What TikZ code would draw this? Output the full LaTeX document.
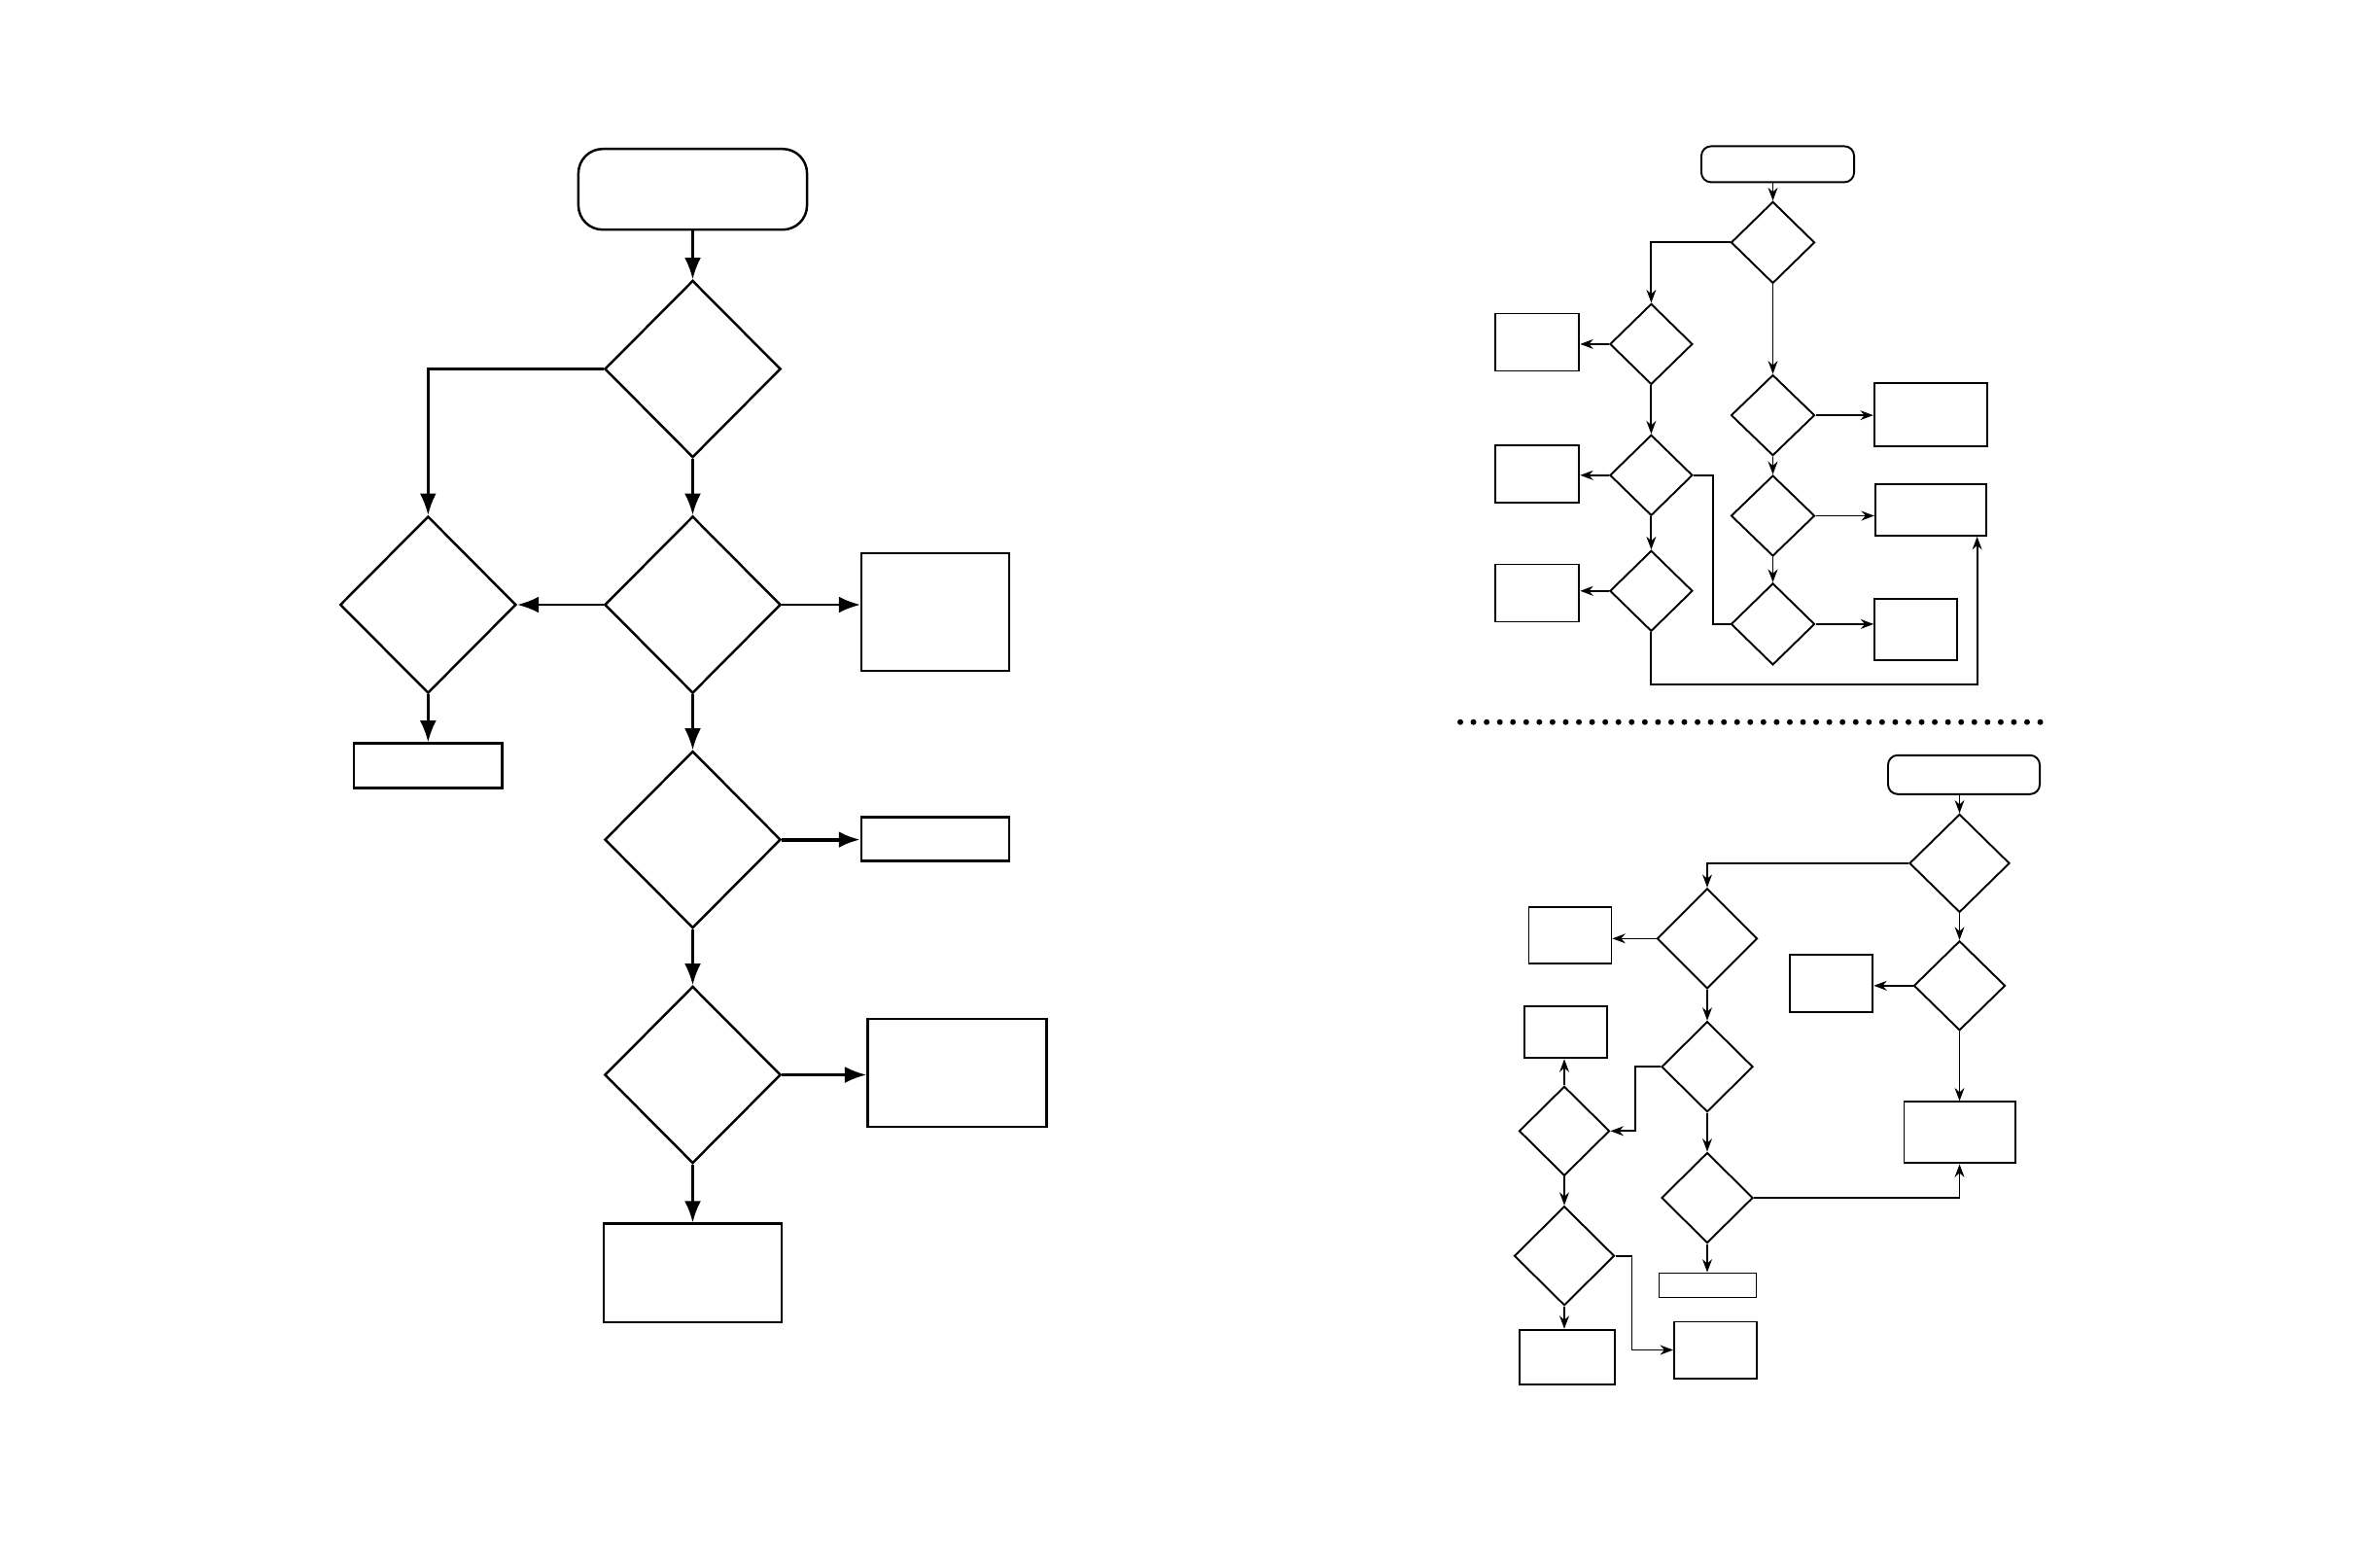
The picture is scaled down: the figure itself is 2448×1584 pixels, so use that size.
\documentclass[tikz,border=0pt]{standalone}
\usepackage{amsmath, amssymb}
\usepackage{tikz}
\usetikzlibrary{shapes.geometric, arrows.meta, calc}

\begin{document}
\begin{tikzpicture}[x=0.01cm, y=-0.01cm,
    dec/.style={diamond, draw, inner sep=0pt, line width=0.7pt, minimum width=1.81cm, minimum height=1.82cm},
    blk/.style={rectangle, draw, inner sep=0pt, line width=0.7pt},
    sdec/.style={diamond, draw, inner sep=0pt, line width=0.55pt},
    sblk/.style={rectangle, draw, inner sep=0pt, line width=0.55pt},
    arr/.style={-{Latex[length=6.3pt, width=4.8pt]}, line width=0.7pt},
    sarr/.style={-{Stealth[length=3.8pt, width=2.8pt]}, line width=0.55pt},
    tarr/.style={-{Stealth[length=3.8pt, width=2.8pt]}, line width=0.4pt}]
    \useasboundingbox (0,0) rectangle (2448,1584);

    % left chart
    \node[blk, rounded corners=0.25cm, minimum width=2.35cm, minimum height=0.83cm] (start) at (712.5,194.7) {};
    \node[dec] (d1) at (712.5,379.5) {};
    \node[dec] (dl) at (440.3,622) {};
    \node[dec] (d2) at (712.5,622) {};
    \node[blk, minimum width=1.52cm, minimum height=1.21cm] (b1) at (962.2,629.3) {};
    \node[blk, minimum width=1.52cm, minimum height=0.46cm] (bl) at (440.3,787.6) {};
    \node[dec] (d3) at (712.5,863.6) {};
    \node[blk, minimum width=1.52cm, minimum height=0.45cm] (b2) at (962.2,863.2) {};
    \node[dec] (d4) at (712.5,1105.5) {};
    \node[blk, minimum width=1.84cm, minimum height=1.11cm] (b3) at (984.4,1103.4) {};
    \node[blk, minimum width=1.83cm, minimum height=1.01cm] (b4) at (712.5,1309.2) {};

    \draw[arr] (start) -- (d1);
    \draw[arr] (d1.west) -| (dl.north);
    \draw[arr] (d1) -- (d2);
    \draw[arr] (d2.west) -- (dl.east);
    \draw[arr] (d2.east) -- (d2.east -| b1.west);
    \draw[arr] (dl) -- (bl);
    \draw[arr] (d2) -- (d3);
    \draw[arr, line width=1.1pt] (d3.east) -- (d3.east -| b2.west);
    \draw[arr] (d3) -- (d4);
    \draw[arr] (d4.east) -- (d4.east -| b3.west);
    \draw[arr] (d4) -- (b4);

    % upper right chart
    \node[sblk, rounded corners=0.1cm, minimum width=1.57cm, minimum height=0.37cm] (ta) at (1828.5,168.9) {};
    \node[sdec, minimum width=0.86cm, minimum height=0.84cm] (da) at (1823.5,249.4) {};
    \node[sdec, minimum width=0.85cm, minimum height=0.83cm] (db) at (1698.4,353.9) {};
    \node[sblk, minimum width=0.86cm, minimum height=0.59cm] (ba) at (1581.3,352) {};
    \node[sdec, minimum width=0.85cm, minimum height=0.83cm] (dc) at (1698.4,488.8) {};
    \node[sblk, minimum width=0.86cm, minimum height=0.59cm] (bb) at (1581.3,487.8) {};
    \node[sdec, minimum width=0.85cm, minimum height=0.83cm] (dd) at (1698.4,607.8) {};
    \node[sblk, minimum width=0.86cm, minimum height=0.59cm] (bc) at (1581.3,610) {};
    \node[sdec, minimum width=0.86cm, minimum height=0.83cm] (de) at (1823.5,427.1) {};
    \node[sblk, minimum width=1.16cm, minimum height=0.65cm] (bd) at (1985.8,426.8) {};
    \node[sdec, minimum width=0.86cm, minimum height=0.83cm] (df) at (1823.5,530.5) {};
    \node[sblk, minimum width=1.14cm, minimum height=0.53cm] (be) at (1985.9,524.4) {};
    \node[sdec, minimum width=0.86cm, minimum height=0.84cm] (dg) at (1823.5,641.9) {};
    \node[sblk, minimum width=0.85cm, minimum height=0.63cm] (bf) at (1970.7,647.4) {};
    \coordinate (ce) at ($(be.south east)+(-10.3,0)$);

    \draw[sarr] (ta.south -| da.north) -- (da.north);
    \draw[sarr] (da.west) -| (db.north);
    \draw[sarr] (db.west) -- (ba.east |- db.west);
    \draw[sarr] (db) -- (dc);
    \draw[tarr] (dc.west) -- (bb.east |- dc.west);
    \draw[sarr] (dc) -- (dd);
    \draw[sarr] (dd.west) -- (bc.east |- dd.west);
    \draw[sarr] (da) -- (de);
    \draw[tarr] (de.east) -- (bd.west |- de.east);
    \draw[sarr] (de) -- (df);
    \draw[sarr] (df.east) -- (be.west |- df.east);
    \draw[sarr] (df) -- (dg);
    \draw[sarr] (dg.east) -- (bf.west |- dg.east);
    \draw[line width=0.4pt] (dc.east) -- ++(20,0) |- (dg.west);
    \draw[sarr] (dd.south) -- ++(0,53.6) -| (ce);

    % separator
    \draw[line width=1.7pt, line cap=round, dash pattern=on 0pt off 0.1355cm] (1502,742.7) -- (2100,742.7);

    % lower right chart
    \node[sblk, rounded corners=0.1cm, minimum width=1.56cm, minimum height=0.40cm] (tb) at (2020,796.8) {};
    \node[sdec, minimum width=1.03cm, minimum height=1.01cm] (dp) at (2015.5,887.9) {};
    \node[sdec, minimum width=1.03cm, minimum height=1.03cm] (dq) at (1756,965.3) {};
    \node[sblk, line width=0.4pt, minimum width=0.85cm, minimum height=0.58cm] (bq) at (1615.2,962) {};
    \node[sdec, minimum width=0.94cm, minimum height=0.92cm] (dr) at (2015.5,1013.8) {};
    \node[sblk, minimum width=0.85cm, minimum height=0.59cm] (br) at (1883.8,1011.5) {};
    \node[sblk, minimum width=1.14cm, minimum height=0.63cm] (bs) at (2015.5,1164.9) {};
    \node[sdec, minimum width=0.94cm, minimum height=0.93cm] (dv) at (1756,1097.2) {};
    \node[sdec, minimum width=0.93cm, minimum height=0.92cm] (dw) at (1609,1163.3) {};
    \node[sblk, minimum width=0.85cm, minimum height=0.53cm] (bw) at (1610.7,1061.8) {};
    \node[sdec, minimum width=1.03cm, minimum height=1.02cm] (dx) at (1609,1291.7) {};
    \node[sdec, minimum width=0.94cm, minimum height=0.93cm] (du) at (1756,1232) {};
    \node[sblk, line width=0.4pt, minimum width=1.0cm, minimum height=0.25cm] (bu) at (1756.4,1321.8) {};
    \node[sblk, minimum width=0.98cm, minimum height=0.56cm] (bx) at (1612.3,1395.7) {};
    \node[sblk, minimum width=0.85cm, minimum height=0.58cm] (by) at (1764.5,1388.5) {};

    \draw[sarr] (tb.south -| dp.north) -- (dp.north);
    \draw[tarr] (dp.west) -| (dq.north);
    \draw[tarr] (dq.west) -- (bq.east |- dq.west);
    \draw[sarr] (dp) -- (dr);
    \draw[sarr] (dr.west) -- (br.east |- dr.west);
    \draw[sarr] (dr) -- (bs);
    \draw[tarr] (dq) -- (dv);
    \draw[sarr] (dv.west) -- ++(-25.7,0) |- (dw.east);
    \draw[tarr] (dw.north) -- (bw.south -| dw.north);
    \draw[tarr] (dw) -- (dx);
    \draw[tarr] (dx.south) -- (bx.north -| dx.south);
    \draw[sarr] (dx.east) -- ++(17,0) |- (by.west);
    \draw[tarr] (dv) -- (du);
    \draw[sarr] (du.east) -| (bs.south);
    \draw[tarr] (du.south) -- (bu.north -| du.south);
\end{tikzpicture}
\end{document}
